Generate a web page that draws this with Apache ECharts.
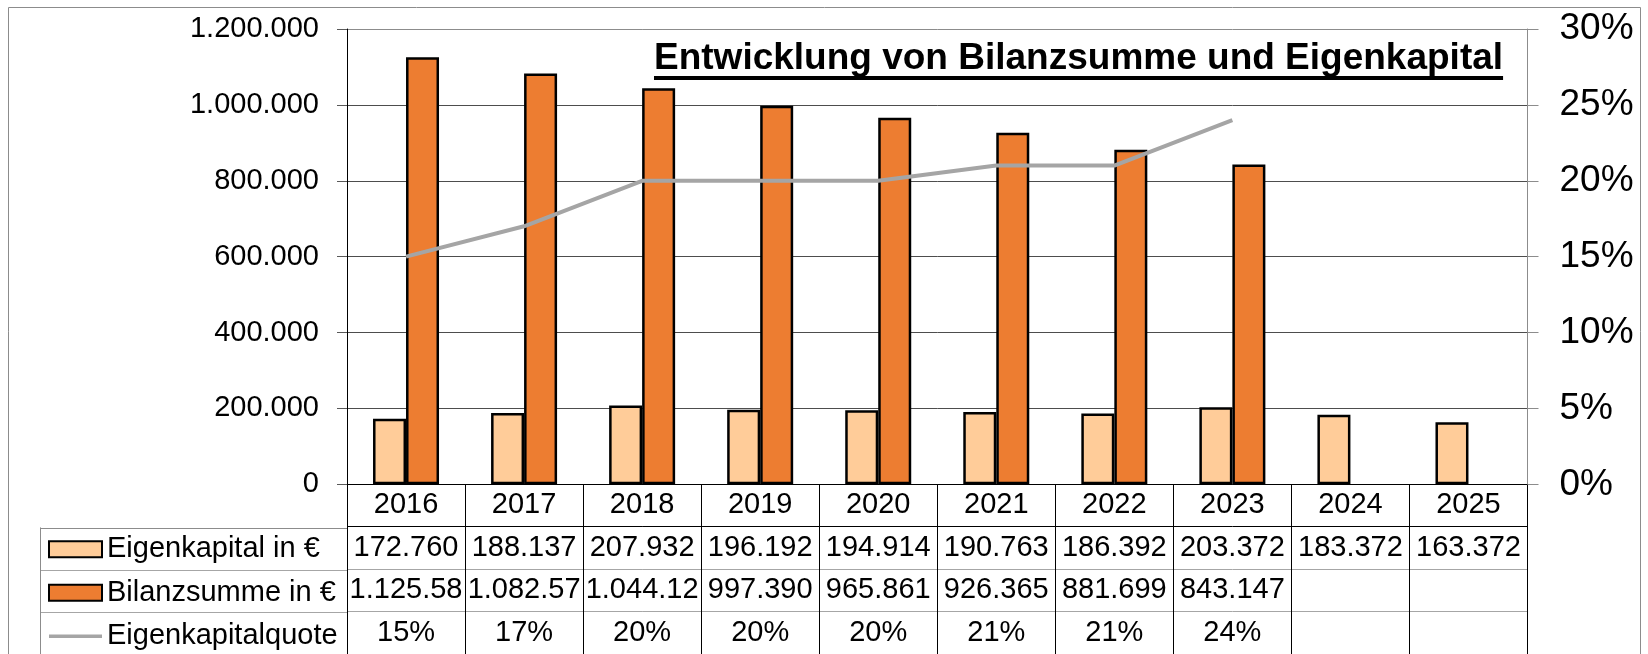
<!DOCTYPE html>
<html><head><meta charset="utf-8">
<script src="https://cdn.jsdelivr.net/npm/echarts@6/dist/echarts.min.js"></script>
<style>html,body{margin:0;padding:0;background:#fff}#c{width:1648px;height:654px}</style>
</head><body><div id="c"></div>
<script>
const FONT = '"Liberation Sans", Arial, sans-serif';
const years = ['2016','2017','2018','2019','2020','2021','2022','2023','2024','2025'];
const eigenkapital = [172760,188137,207932,196192,194914,190763,186392,203372,183372,163372];
const bilanzsumme = [1125580,1082570,1044120,997390,965861,926365,881699,843147,null,null];
const quote = [15,17,20,20,20,21,21,24,null,null];
const leftAxis = {min:0, max:1200000, interval:200000};
const rightAxis = {min:0, max:30, interval:5};
const seriesNames = ['Eigenkapital in €','Bilanzsumme in €','Eigenkapitalquote'];
const title = 'Entwicklung von Bilanzsumme und Eigenkapital';

const fmt = v => String(v).replace(/\B(?=(\d{3})+(?!\d))/g, '.');
const rows = [
  null,
  eigenkapital.map(v => v == null ? '' : fmt(v)),
  bilanzsumme.map(v => v == null ? '' : fmt(v)),
  quote.map(v => v == null ? '' : v + '%')
];
const cells = [];
for (let r = 1; r <= 3; r++) for (let i = 0; i < years.length; i++) if (rows[r][i] !== '') cells.push([i, r]);

const chart = echarts.init(document.getElementById('c'), null, {renderer:'canvas'});
chart.setOption({
  animation: false,
  backgroundColor: '#fff',
  textStyle: {fontFamily: FONT},
  title: {
    text: '{t|' + title + '}\n{u|}',
    left: 654, top: 41, padding: 0,
    textStyle: {
      rich: {
        t: {fontSize: 37, fontWeight: 'bold', fontFamily: FONT, color: '#000', lineHeight: 35},
        u: {width: '100%', height: 4, lineHeight: 4, backgroundColor: '#000'}
      }
    }
  },
  graphic: [{type:'rect', shape:{x:8.5, y:7.5, width:1632, height:700}, style:{fill:'none', stroke:'#8c8c8c', lineWidth:1}, silent:true, z:-10}],
  legend: {
    orient: 'vertical', left: 48, top: 527.5, height: 400, padding: 0,
    itemWidth: 53, itemHeight: 16, itemGap: 0, selectedMode: false,
    textStyle: {fontSize: 29, fontFamily: FONT, color: '#000', lineHeight: 43.5},
    data: [
      {name: seriesNames[0], icon: 'rect'},
      {name: seriesNames[1], icon: 'rect'},
      {name: seriesNames[2], icon: 'path://M0,0H53V3.5H0Z', itemStyle: {color: '#A5A5A5'}}
    ]
  },
  grid: [
    {left: 347, right: 120.5, top: 29, bottom: 169.7},
    {left: 347, right: 120.5, top: 484.3, height: 174},
    {left: 40, width: 307, top: 527.8, height: 130.5}
  ],
  xAxis: [
    {type:'category', gridIndex:0, data: years, boundaryGap: true,
     axisLine:{show:true, lineStyle:{color:'#000', width:1}}, axisTick:{show:false},
     axisLabel:{fontSize:29, fontFamily:FONT, color:'#000', margin:21, verticalAlign:'middle', interval:0},
     splitLine:{show:false}},
    {type:'category', gridIndex:1, data: years, boundaryGap: true,
     axisLine:{show:false}, axisTick:{show:false}, axisLabel:{show:false},
     splitLine:{show:true, lineStyle:{color:'#000', width:1}}},
    {type:'value', gridIndex:2, min:0, max:1, show:false}
  ],
  yAxis: [
    {type:'value', gridIndex:0, min:leftAxis.min, max:leftAxis.max, interval:leftAxis.interval,
     axisLine:{show:true, lineStyle:{color:'#000', width:1}},
     axisTick:{show:true, length:10, lineStyle:{color:'#595959'}},
     axisLabel:{fontSize:29, fontFamily:FONT, color:'#000', margin:28, formatter: v => fmt(v)},
     splitLine:{show:true, lineStyle:{color:['#4d4d4d','#4d4d4d','#4d4d4d','#4d4d4d','#4d4d4d','#4d4d4d','#8c8c8c'], width:1}}},
    {type:'value', gridIndex:0, position:'right', min:rightAxis.min, max:rightAxis.max, interval:rightAxis.interval,
     axisLine:{show:true, lineStyle:{color:'#8c8c8c', width:1}},
     axisTick:{show:true, length:11, lineStyle:{color:'#8c8c8c'}},
     axisLabel:{fontSize:37, fontFamily:FONT, color:'#000', margin:32, formatter: v => v + '%'},
     splitLine:{show:false}},
    {type:'value', gridIndex:1, min:0, max:4, interval:1, inverse:true,
     axisLine:{show:false}, axisTick:{show:false}, axisLabel:{show:false},
     splitLine:{show:true, lineStyle:{color:['rgba(0,0,0,0)','#000','#a6a6a6','#a6a6a6','#a6a6a6'], width:1}}},
    {type:'value', gridIndex:2, min:0, max:3, interval:1, inverse:true,
     axisLine:{show:true, lineStyle:{color:'#8c8c8c', width:1}}, axisTick:{show:false}, axisLabel:{show:false},
     splitLine:{show:true, lineStyle:{color:['#8c8c8c','#a6a6a6','#a6a6a6','#a6a6a6'], width:1}}}
  ],
  series: [
    {name: seriesNames[0], type:'bar', xAxisIndex:0, yAxisIndex:0, data: eigenkapital, barWidth:33, barGap:'0%',
     itemStyle:{color:'#FFCC99', borderColor:'#000', borderWidth:2.5}},
    {name: seriesNames[1], type:'bar', xAxisIndex:0, yAxisIndex:0, data: bilanzsumme, barWidth:33, barGap:'0%',
     itemStyle:{color:'#ED7D31', borderColor:'#000', borderWidth:2.5}},
    {name: seriesNames[2], type:'line', xAxisIndex:0, yAxisIndex:1, data: quote, symbol:'none', showSymbol:false,
     lineStyle:{color:'#A5A5A5', width:4}, itemStyle:{color:'#A5A5A5'}, z:5},
    {name:'table', type:'custom', xAxisIndex:1, yAxisIndex:2, data: cells, silent:true,
     renderItem: (params, api) => {
       const i = api.value(0), r = api.value(1);
       const p = api.coord([i, r + 0.5]);
       const w = api.size([1, 0])[0];
       return {type:'text', x:p[0], y:p[1], style:{text: rows[r][i], fill:'#000', fontSize:29, fontFamily:FONT,
         align:'center', verticalAlign:'middle', width: w + 1, overflow:'truncate', ellipsis:''}};
     }}
  ]
});
</script></body></html>
